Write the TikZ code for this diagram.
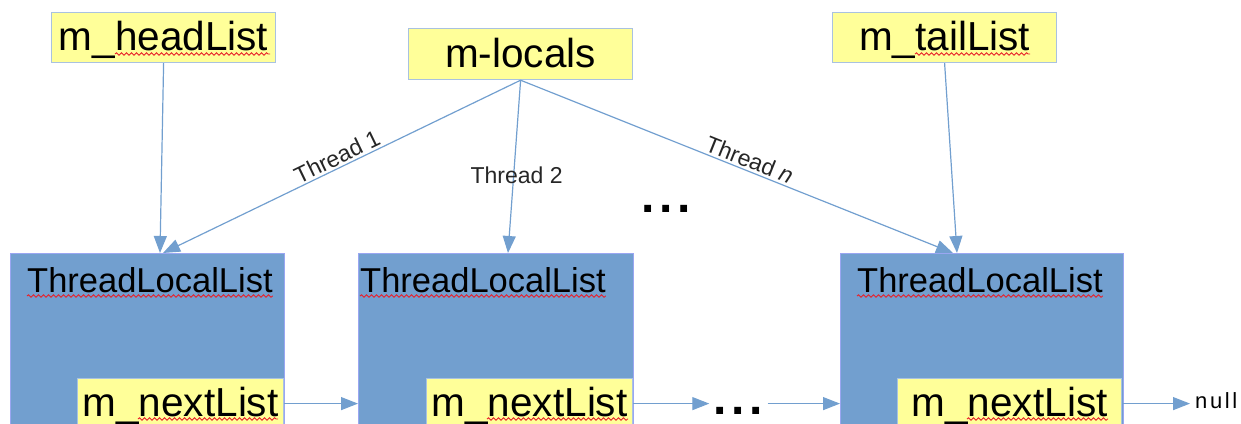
\documentclass[tikz,border=0pt]{standalone}
\usepackage{fontspec}
\setmainfont{Liberation Sans}
\newfontfamily\endmarkfont[LetterSpace=12]{Liberation Sans}
\usetikzlibrary{arrows.meta,decorations.pathmorphing,calc}
\definecolor{boxblue}{HTML}{729FCF}
\definecolor{boxedge}{HTML}{9AA6F2}
\definecolor{noteyellow}{HTML}{FFFF99}
\definecolor{noteedge}{HTML}{A9C2E0}
\definecolor{linkblue}{HTML}{729FCF}
\definecolor{spell}{HTML}{E8202A}

\begin{document}
\begin{tikzpicture}[x=1pt,y=-1pt,
  note/.style={draw=noteedge, fill=noteyellow, line width=1.2pt, inner sep=0pt,
    minimum height=50pt, text height=38pt, text depth=12pt,
    font=\fontsize{40.5}{40.5}\selectfont},
  listbox/.style={draw=boxedge, fill=boxblue, line width=1pt, inner sep=0pt,
    anchor=north west, minimum height=190pt},
  title/.style={anchor=base west, inner sep=0pt, font=\fontsize{34.5}{34.5}\selectfont},
  link/.style={draw=linkblue, line width=1.2pt, -{Triangle[length=17pt,width=13pt]}},
  lbl/.style={font=\fontsize{23}{23}\selectfont, text=black!85, inner sep=2pt},
  dots/.style={font=\fontsize{48}{48}\selectfont\bfseries, inner sep=0pt, anchor=base},
  spellmark/.style={draw=spell, line width=0.9pt, decorate,
    decoration={snake, segment length=5pt, amplitude=1.2pt}}
]
\useasboundingbox (0,0) rectangle (1241,423);
\clip (0,0) rectangle (1241,423);

% pointers at the top
\node[note, minimum width=224pt, anchor=north west] (head) at (51,12) {m\_headList};
\node[note, minimum width=224pt, minimum height=51pt, anchor=north west] (loc) at (408,28) {m-locals};
\node[note, minimum width=224pt, anchor=north west] (tail) at (832,12) {m\_tailList};

% the per-thread lists
\node[listbox, minimum width=274pt] (tl1) at (10,253) {};
\node[listbox, minimum width=275pt] (tl2) at (358,253) {};
\node[listbox, minimum width=283pt] (tl3) at (840,253) {};

\node[title] (tt1) at (27,292) {ThreadLocalList};
\node[title] (tt2) at (360,292) {ThreadLocalList};
\node[title] (tt3) at (857,292) {ThreadLocalList};

\node[note, minimum width=206pt, anchor=north west] (nx1) at (77,378) {m\_nextList};
\node[note, minimum width=206pt, anchor=north west] (nx2) at (426,378) {m\_nextList};
\node[note, minimum width=224pt, anchor=north west] (nx3) at (897,378) {m\_nextList};

% ellipses and terminator
\node[dots] (gap) at (666,212) {.\hspace{4.5pt}.\hspace{4.5pt}.};
\node[dots] (mid) at (738,414) {.\hspace{4.5pt}.\hspace{4.5pt}.};
\node[anchor=west, inner sep=0pt, font=\endmarkfont\fontsize{22}{22}\selectfont] (null) at (1195,401) {null};

% head / tail pointers
\draw[link] (head.south) -- ([xshift=150pt]tl1.north west);
\draw[link] (tail.south) -- ([xshift=117pt]tl3.north west);

% thread-local slots
\draw[link] (loc.south) -- node[lbl, sloped, above, pos=0.5] {Thread 1} ([xshift=153pt]tl1.north west);
\draw[link] (loc.south) -- node[lbl, pos=0.55, xshift=3pt] {Thread 2} ([xshift=150pt]tl2.north west);
\draw[link] (loc.south) -- node[lbl, sloped, above, pos=0.52] {Thread \textit{n}} ([xshift=113pt]tl3.north west);

% next links
\draw[link] (nx1.east) -- (nx1.east -| tl2.west);
\draw[link] (nx2.east) -- ([xshift=-4pt]nx2.east -| mid.west);
\draw[link] ([xshift=5pt]nx2.east -| mid.east) -- (nx2.east -| tl3.west);
\draw[link] (nx3.east) -- ([xshift=-5pt]nx3.east -| null.west);

% spell-check underlines
\draw[spellmark] (115,54) -- (270,54);
\draw[spellmark] (915,54) -- (1030,54);
\draw[spellmark] ($(tt1.base west)+(0,4)$) -- ($(tt1.base east)+(0,4)$);
\draw[spellmark] ($(tt2.base west)+(0,4)$) -- ($(tt2.base east)+(0,4)$);
\draw[spellmark] ($(tt3.base west)+(0,4)$) -- ($(tt3.base east)+(0,4)$);
\draw[spellmark] (138,419) -- (278,419);
\draw[spellmark] (487,419) -- (628,419);
\draw[spellmark] (967,419) -- (1108,419);
\end{tikzpicture}
\end{document}
